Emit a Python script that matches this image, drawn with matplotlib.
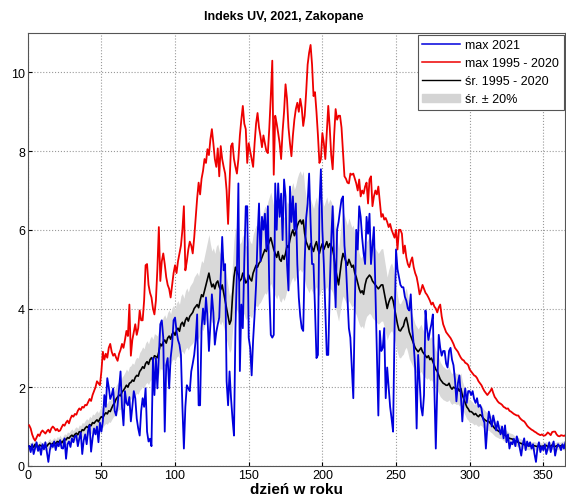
import numpy as np
import matplotlib
matplotlib.use("Agg")
import matplotlib.pyplot as plt
import matplotlib.patches as mpatches

plt.rcParams["font.family"] = ["Liberation Sans", "DejaVu Sans"]

# daily max UV index in 2021 (days 1..365)
max_2021 = [
    0.50, 0.35, 0.55, 0.30, 0.45, 0.60, 0.38, 0.50, 0.28, 0.55,
    0.42, 0.60, 0.35, 0.10, 0.40, 0.55, 0.48, 0.62, 0.40, 0.58,
    0.50, 0.65, 0.45, 0.44, 0.70, 0.18, 0.55, 0.62, 0.48, 0.70,
    0.60, 0.75, 0.77, 0.50, 0.69, 0.85, 0.30, 0.65, 0.80, 0.55,
    0.90, 1.03, 0.36, 0.70, 0.95, 0.80, 1.00, 0.60, 1.10, 0.87,
    1.13, 1.80, 1.50, 2.23, 2.00, 1.70, 1.80, 1.97, 1.40, 1.28,
    1.54, 1.97, 2.40, 1.50, 1.03, 1.90, 1.60, 1.54, 1.75, 1.13,
    1.50, 1.90, 1.72, 1.20, 0.95, 0.77, 1.40, 1.72, 1.50, 1.97,
    0.87, 0.62, 0.69, 0.50, 2.74, 1.80, 2.74, 1.97, 2.80, 3.60,
    3.70, 3.26, 0.87, 2.56, 2.74, 1.97, 2.74, 3.08, 3.70, 3.77,
    3.43, 3.20, 3.08, 2.82, 1.50, 0.44, 1.50, 2.05, 1.97, 1.90,
    2.40, 2.60, 2.82, 3.20, 3.85, 1.54, 1.54, 3.50, 4.00, 3.60,
    4.28, 3.80, 2.92, 3.60, 4.36, 3.90, 3.08, 3.40, 3.60, 3.77,
    4.80, 5.82, 4.97, 5.13, 2.15, 1.54, 2.40, 1.72, 1.20, 0.77,
    3.50, 4.97, 7.18, 2.41, 4.10, 3.50, 5.20, 6.60, 6.60, 3.26,
    3.00, 2.30, 3.20, 3.85, 4.60, 5.80, 6.67, 5.20, 6.33, 6.00,
    6.41, 5.50, 6.60, 4.46, 3.33, 3.26, 3.33, 7.18, 6.00, 7.18,
    6.33, 6.92, 5.74, 7.28, 6.85, 5.13, 4.46, 7.10, 6.20, 6.85,
    6.00, 6.67, 5.13, 4.28, 3.80, 3.50, 3.43, 5.20, 6.30, 6.67,
    7.43, 6.20, 5.13, 5.13, 4.00, 2.74, 2.82, 6.60, 7.54, 6.00,
    5.13, 4.00, 2.82, 2.82, 4.50, 5.74, 6.60, 5.20, 4.03, 6.00,
    6.20, 6.50, 6.77, 6.85, 5.60, 5.13, 4.28, 3.50, 3.26, 2.50,
    1.72, 4.00, 6.00, 5.50, 6.60, 6.33, 5.80, 5.40, 5.13, 6.33,
    5.90, 6.41, 5.13, 5.60, 6.07, 4.50, 3.00, 1.28, 3.43, 2.92,
    3.00, 3.50, 1.72, 2.50, 2.00, 1.50, 1.20, 0.87, 3.50, 5.50,
    5.00, 4.80, 4.60, 4.54, 4.54, 4.30, 4.20, 4.00, 3.95, 4.36,
    3.50, 3.08, 2.50, 0.95, 2.82, 2.15, 1.50, 1.28, 1.80, 3.95,
    3.50, 3.20, 3.43, 3.60, 3.85, 2.00, 0.44, 2.00, 3.33, 3.00,
    2.80, 2.92, 2.92, 2.60, 2.50, 2.92, 3.00, 2.70, 2.56, 2.20,
    1.64, 2.10, 2.30, 1.80, 1.13, 1.70, 1.97, 1.60, 1.90, 1.90,
    1.80, 1.90, 1.70, 1.60, 1.72, 1.50, 1.55, 1.46, 1.20, 1.10,
    0.44, 1.00, 1.38, 1.20, 1.00, 1.28, 1.10, 0.90, 1.13, 0.95,
    0.80, 1.00, 0.70, 1.03, 0.60, 0.80, 0.44, 0.60, 0.55, 0.69,
    0.50, 0.75, 0.62, 0.45, 0.26, 0.55, 0.70, 0.40, 0.62, 0.50,
    0.60, 0.44, 0.55, 0.30, 0.10, 0.45, 0.60, 0.35, 0.50, 0.40,
    0.55, 0.30, 0.44, 0.60, 0.35, 0.50, 0.62, 0.26, 0.45, 0.55,
    0.50, 0.40, 0.55, 0.44, 0.60,
]

# highest daily value 1995 - 2020
max_1995_2020 = [
    1.03, 0.95, 0.80, 0.70, 0.64, 0.72, 0.80, 0.76, 0.85, 0.90,
    0.86, 0.82, 0.88, 0.92, 0.85, 0.95, 1.00, 0.96, 0.90, 0.94,
    0.88, 0.90, 0.98, 1.05, 1.02, 1.10, 1.15, 1.08, 1.20, 1.28,
    1.25, 1.32, 1.30, 1.40, 1.46, 1.42, 1.50, 1.48, 1.55, 1.54,
    1.62, 1.70, 1.65, 1.80, 1.90, 2.00, 2.15, 2.10, 2.05, 2.40,
    2.90, 2.70, 2.85, 2.75, 3.00, 3.10, 2.90, 2.80, 2.85, 2.75,
    2.67, 2.85, 2.95, 3.10, 3.00, 3.20, 3.43, 3.30, 4.10, 2.80,
    3.20, 3.40, 3.60, 3.33, 3.50, 3.95, 3.70, 3.70, 4.20, 5.10,
    5.13, 4.60, 4.40, 4.28, 4.00, 3.85, 4.20, 5.00, 6.07, 4.70,
    5.20, 5.40, 5.13, 4.80, 4.60, 4.50, 4.28, 4.60, 4.90, 5.10,
    4.90, 5.20, 5.40, 5.60, 6.00, 6.60, 4.97, 5.20, 5.50, 5.70,
    5.60, 5.40, 5.80, 6.30, 6.80, 7.20, 6.90, 7.30, 7.50, 7.80,
    7.70, 8.05, 7.90, 8.30, 8.56, 8.20, 7.80, 7.60, 8.07, 7.36,
    8.13, 7.80, 7.60, 7.43, 7.00, 6.15, 7.20, 8.13, 8.20, 7.80,
    7.60, 7.43, 7.80, 8.40, 8.80, 9.15, 8.70, 8.56, 7.70, 8.20,
    8.00, 7.80, 7.60, 8.20, 8.70, 8.97, 8.60, 8.38, 8.10, 8.40,
    8.20, 8.00, 7.95, 8.60, 9.40, 10.30, 7.40, 8.90, 8.70, 8.46,
    8.20, 7.80, 8.50, 9.00, 9.70, 9.33, 8.60, 8.20, 7.87, 8.40,
    8.80, 9.07, 9.23, 9.00, 9.33, 9.10, 8.64, 8.90, 9.50, 10.20,
    10.50, 10.70, 10.20, 9.40, 9.50, 9.00, 8.40, 7.70, 7.80, 8.46,
    8.20, 7.80, 8.50, 9.15, 8.60, 7.90, 7.54, 8.40, 9.07, 8.80,
    8.90, 8.90, 8.60, 8.00, 7.36, 7.30, 7.20, 7.18, 7.43, 7.40,
    7.43, 7.30, 7.18, 7.00, 7.28, 6.85, 7.00, 6.92, 7.10, 7.20,
    6.67, 7.28, 7.36, 6.60, 6.85, 7.00, 6.90, 7.10, 6.70, 6.33,
    6.40, 6.26, 6.30, 6.20, 6.07, 6.15, 6.00, 5.90, 5.80, 6.00,
    5.50, 6.00, 6.00, 5.90, 5.40, 5.60, 5.30, 5.13, 5.05, 5.20,
    5.30, 5.05, 4.90, 4.80, 4.60, 4.36, 4.46, 4.60, 4.50, 4.40,
    4.35, 4.28, 4.20, 4.10, 4.15, 4.05, 4.00, 3.90, 4.03, 4.10,
    3.80, 3.60, 3.50, 3.40, 3.35, 3.30, 3.25, 3.18, 3.10, 3.00,
    2.95, 2.90, 2.82, 2.75, 2.70, 2.68, 2.62, 2.60, 2.56, 2.45,
    2.40, 2.35, 2.30, 2.28, 2.23, 2.15, 2.10, 2.05, 1.97, 1.90,
    1.85, 1.80, 1.85, 1.90, 1.97, 1.85, 1.75, 1.70, 1.64, 1.60,
    1.58, 1.55, 1.50, 1.48, 1.45, 1.46, 1.40, 1.38, 1.35, 1.32,
    1.30, 1.28, 1.28, 1.22, 1.18, 1.15, 1.13, 1.08, 1.02, 0.98,
    0.95, 0.92, 0.90, 0.87, 0.85, 0.82, 0.80, 0.78, 0.80, 0.77,
    0.77, 0.80, 0.85, 0.82, 0.78, 0.86, 0.87, 0.87, 0.80, 0.76,
    0.75, 0.78, 0.77, 0.76, 0.78,
]

# mean daily max 1995 - 2020
mean_1995_2020 = [
    0.50, 0.48, 0.52, 0.47, 0.55, 0.50, 0.46, 0.53, 0.51, 0.49,
    0.52, 0.48, 0.50, 0.55, 0.58, 0.53, 0.57, 0.60, 0.56, 0.62,
    0.60, 0.65, 0.58, 0.63, 0.68, 0.66, 0.72, 0.70, 0.75, 0.78,
    0.74, 0.80, 0.83, 0.79, 0.87, 0.85, 0.92, 0.90, 0.96, 1.00,
    0.97, 1.05, 1.02, 1.10, 1.08, 1.13, 1.17, 1.12, 1.20, 1.25,
    1.22, 1.30, 1.35, 1.32, 1.40, 1.38, 1.47, 1.55, 1.60, 1.70,
    1.75, 1.80, 1.78, 1.88, 1.92, 1.98, 2.05, 2.00, 2.10, 2.12,
    2.18, 2.15, 2.25, 2.30, 2.28, 2.40, 2.45, 2.52, 2.48, 2.60,
    2.65, 2.58, 2.70, 2.75, 2.68, 2.80, 2.78, 2.75, 2.90, 3.10,
    3.05, 3.15, 3.20, 3.12, 3.25, 3.30, 3.22, 3.35, 3.40, 3.32,
    3.45, 3.50, 3.42, 3.60, 3.65, 3.55, 3.70, 3.77, 3.68, 3.80,
    3.85, 3.90, 4.00, 4.05, 4.10, 4.02, 4.20, 4.35, 4.30, 4.45,
    4.60, 4.75, 4.90, 4.70, 4.55, 4.62, 4.50, 4.65, 4.70, 4.55,
    4.48, 4.60, 4.40, 4.20, 4.00, 3.80, 3.60, 3.70, 4.30, 4.80,
    5.05, 4.95, 4.85, 4.70, 4.75, 4.90, 4.80, 4.65, 4.70, 4.85,
    4.75, 4.70, 4.90, 5.00, 5.10, 5.05, 5.15, 5.20, 5.30, 5.40,
    5.50, 5.45, 5.60, 5.70, 5.80, 5.65, 5.50, 5.40, 5.30, 5.45,
    5.25, 5.20, 5.35, 5.25, 5.40, 5.60, 5.55, 5.75, 5.90, 6.00,
    5.85, 5.95, 6.10, 6.20, 6.25, 6.15, 6.25, 5.90, 5.70, 5.60,
    5.50, 5.65, 5.55, 5.45, 5.60, 5.70, 5.50, 5.40, 5.55, 5.65,
    5.50, 5.60, 5.70, 5.55, 5.65, 5.60, 5.50, 5.30, 5.00, 4.80,
    4.60, 4.90, 5.20, 5.40, 5.30, 5.20, 5.10, 5.25, 5.15, 5.05,
    5.10, 4.90, 4.80, 4.65, 4.50, 4.40, 4.45, 4.36, 4.60, 4.75,
    4.80, 4.85, 4.80, 4.70, 4.65, 4.60, 4.55, 4.50, 4.55, 4.60,
    4.60, 4.40, 4.20, 4.00, 4.15, 4.25, 4.30, 4.20, 4.00, 3.80,
    3.60, 3.45, 3.43, 3.50, 3.55, 3.70, 3.77, 3.60, 3.40, 3.30,
    3.20, 3.10, 3.00, 2.95, 2.90, 2.95, 3.00, 2.90, 2.85, 2.80,
    2.75, 2.80, 2.70, 2.74, 2.65, 2.55, 2.45, 2.40, 2.30, 2.20,
    2.15, 2.10, 2.08, 2.05, 2.05, 2.10, 2.00, 1.95, 2.00, 1.98,
    1.95, 1.97, 1.90, 1.97, 1.80, 1.70, 1.60, 1.50, 1.45, 1.38,
    1.38, 1.35, 1.30, 1.33, 1.28, 1.25, 1.30, 1.28, 1.22, 1.18,
    1.15, 1.13, 1.13, 1.08, 1.05, 1.00, 0.95, 0.92, 0.90, 0.87,
    0.87, 0.84, 0.80, 0.78, 0.75, 0.72, 0.70, 0.69, 0.68, 0.65,
    0.63, 0.62, 0.60, 0.58, 0.57, 0.55, 0.54, 0.53, 0.52, 0.51,
    0.51, 0.50, 0.52, 0.51, 0.50, 0.49, 0.52, 0.50, 0.48, 0.51,
    0.50, 0.52, 0.49, 0.51, 0.50, 0.53, 0.50, 0.49, 0.51, 0.52,
    0.50, 0.51, 0.53, 0.50, 0.51,
]

days = np.arange(1, len(mean_1995_2020) + 1)
mean_arr = np.array(mean_1995_2020)

fig = plt.figure(figsize=(5.66, 5.02), dpi=100)
ax = fig.add_axes([0.049, 0.070, 0.950, 0.862])

# shaded band: mean +/- 20%
ax.fill_between(days, mean_arr * 0.8, mean_arr * 1.2,
                color="#d9d9d9", linewidth=0, zorder=1)
ax.plot(days, mean_1995_2020, color="black", linewidth=1.2, zorder=3)
ax.plot(days, max_1995_2020, color="#ee0000", linewidth=1.3, zorder=3)
ax.plot(days, max_2021, color="#0000dd", linewidth=1.3, zorder=4)

ax.set_xlim(0, 365)
ax.set_ylim(0, 11)
ax.set_xticks(range(0, 351, 50))
ax.set_yticks(range(0, 11, 2))
ax.tick_params(labelsize=9, direction="in", length=3, pad=2)
ax.grid(True, linestyle=":", color="#999999", linewidth=0.8)
ax.set_axisbelow(True)
for s in ax.spines.values():
    s.set_color("#555555")
    s.set_linewidth(0.8)

# title sits centred on the figure in the original
fig.text(0.502, 0.966, "Indeks UV, 2021, Zakopane", fontsize=9,
         fontweight="bold", ha="center", va="center")
ax.set_xlabel("dzień w roku", fontsize=11, fontweight="bold", labelpad=1)

handles = [
    plt.Line2D([], [], color="#0000dd", linewidth=1.1),
    plt.Line2D([], [], color="#ee0000", linewidth=1.1),
    plt.Line2D([], [], color="black", linewidth=1.0),
    mpatches.Patch(color="#d4d4d4"),
]
labels = ["max 2021", "max 1995 - 2020", "śr. 1995 - 2020", "śr. ± 20%"]
leg = ax.legend(handles, labels, loc="upper right", fontsize=9,
                frameon=True, fancybox=False, edgecolor="#555555",
                framealpha=1, handlelength=3.0, handletextpad=0.45,
                borderpad=0.35, labelspacing=0.48, borderaxespad=0.15)
leg.get_frame().set_linewidth(0.8)

fig.savefig("out.png", dpi=100)
